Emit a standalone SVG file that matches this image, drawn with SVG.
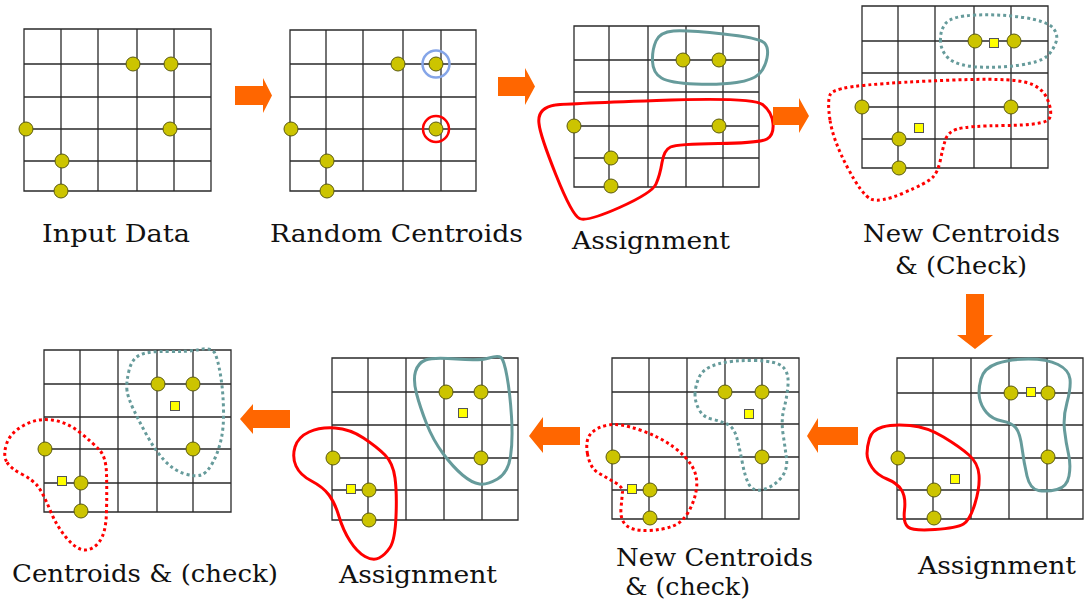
<svg xmlns="http://www.w3.org/2000/svg" width="1085" height="600" viewBox="0 0 1085 600">
<style>
.grid{fill:none;stroke:#2a2a2a;stroke-width:1.3}
.pt{fill:#CCC400;stroke:#5a5a10;stroke-width:1}
.sq{fill:#FFFF00;stroke:#555;stroke-width:1}
.teal{fill:none;stroke:#669B9B;stroke-width:3}
.red{fill:none;stroke:#FF0000;stroke-width:3}
.dot{stroke-dasharray:3 3}
.arr{fill:#FF6600}
.lbl{font-family:"DejaVu Serif","Liberation Serif",serif;font-size:24.5px;fill:#111}
</style>
<rect width="1085" height="600" fill="#fff"/>

<g id="panel1">
<path class="grid" d="M24,29H211V191H24Z M61,29V191 M98,29V191 M137,29V191 M174,29V191 M24,64H211 M24,97H211 M24,129H211 M24,161H211"/>
<circle class="pt" cx="133" cy="64" r="7"/><circle class="pt" cx="171" cy="64" r="7"/><circle class="pt" cx="26" cy="129" r="7"/><circle class="pt" cx="170" cy="129" r="7"/><circle class="pt" cx="62" cy="161" r="7"/><circle class="pt" cx="61" cy="191" r="7"/>
<text class="lbl" x="42" y="242" textLength="148" lengthAdjust="spacingAndGlyphs">Input Data</text>
</g>

<g id="panel2">
<path class="grid" d="M290,30H476V191H290Z M326,30V191 M363,30V191 M403,30V191 M441,30V191 M290,64H476 M290,97H476 M290,129H476 M290,161H476"/>
<circle class="pt" cx="398" cy="64" r="7"/><circle class="pt" cx="436" cy="64" r="7"/><circle class="pt" cx="291" cy="129" r="7"/><circle class="pt" cx="436" cy="129" r="7"/><circle class="pt" cx="327" cy="161" r="7"/><circle class="pt" cx="327" cy="191" r="7"/>
<circle cx="436" cy="64" r="13.5" fill="none" stroke="#85A5E8" stroke-width="2.5"/>
<circle cx="436" cy="129" r="13" fill="none" stroke="#FF0000" stroke-width="2.5"/>
<text class="lbl" x="270" y="242" textLength="253" lengthAdjust="spacingAndGlyphs">Random Centroids</text>
</g>

<g id="panel3">
<path class="grid" d="M574,26H759V187H574Z M609,26V187 M648,26V187 M686,26V187 M723,26V187 M574,60H759 M574,92H759 M574,126H759 M574,158H759"/>
<circle class="pt" cx="683" cy="60" r="7"/><circle class="pt" cx="719" cy="60" r="7"/><circle class="pt" cx="574" cy="126" r="7"/><circle class="pt" cx="719" cy="126" r="7"/><circle class="pt" cx="611" cy="158" r="7"/><circle class="pt" cx="611" cy="186" r="7"/>
<path class="teal" d="M652.5,61.5 Q652,50 656,41 Q660,32 673.5,31 Q687,30 723.5,34 Q760,38 764.5,43 Q769,48 767,58 Q765,68 759,74 Q753,80 736.5,82.5 Q720,85 695,84 Q670,83 661.5,78 Q653,73 652.5,61.5 Z"/>
<path class="red" d="M539,123.5 Q537,108 555,105 Q560,104 656.5,100.5 Q753,97 762.5,104.5 Q772,112 773,123.5 Q774,135 767,139 Q760,143 718.5,143.5 Q677,144 670.5,147 Q664,150 662,162.5 Q660,175 656,184 Q652,193 619.5,207.5 Q587,222 579.5,218.5 Q572,215 556,175 Q540,135 539,123.5 Z"/>
<text class="lbl" x="572" y="249" textLength="158" lengthAdjust="spacingAndGlyphs">Assignment</text>
</g>

<g id="panel4">
<path class="grid" d="M862,6H1048V168H862Z M898,6V168 M935,6V168 M974,6V168 M1011,6V168 M862,41H1048 M862,73H1048 M862,107H1048 M862,139H1048"/>
<path class="teal dot" d="M940.5,41 Q940,30 946,23 Q952,16 976,15 Q1000,14 1023.5,17.5 Q1047,21 1053,28 Q1059,35 1055.5,43.5 Q1052,52 1046,57 Q1040,62 1020,65 Q1000,68 979,67 Q958,66 949.5,59 Q941,52 940.5,41 Z"/>
<path class="red dot" d="M830,120 Q827,100 830.5,94 Q834,88 867,85 Q900,82 953.5,80 Q1007,78 1024.5,82 Q1042,86 1047.5,99.5 Q1053,113 1049,119 Q1045,125 1006,125.5 Q967,126 957.5,129 Q948,132 945.5,139.5 Q943,147 940.5,159.5 Q938,172 932.5,177.5 Q927,183 903.5,193 Q880,203 871,199 Q862,195 847.5,167.5 Q833,140 830,120 Z"/>
<circle class="pt" cx="975" cy="41" r="7"/><circle class="pt" cx="1014" cy="41" r="7"/><circle class="pt" cx="862" cy="107" r="7"/><circle class="pt" cx="1011" cy="107" r="7"/><circle class="pt" cx="899" cy="139" r="7"/><circle class="pt" cx="899" cy="168" r="7"/>
<rect class="sq" x="989.5" y="38.5" width="9" height="9"/><rect class="sq" x="914.5" y="123.5" width="9" height="9"/>
<text class="lbl" x="863" y="242" textLength="197" lengthAdjust="spacingAndGlyphs">New Centroids</text>
<text class="lbl" x="895" y="274" textLength="132" lengthAdjust="spacingAndGlyphs">&amp; (Check)</text>
</g>

<g id="panel5">
<path class="grid" d="M897,358H1083V519H897Z M933,358V519 M971,358V519 M1009,358V519 M1047,358V519 M897,393H1083 M897,425H1083 M897,458H1083 M897,490H1083"/>
<path class="teal" d="M979.5,398 Q978,390 981,379 Q984,368 997,363.5 Q1010,359 1028.5,359 Q1047,359 1058,364.5 Q1069,370 1070,379 Q1071,388 1067,402.5 Q1063,417 1064.5,430 Q1066,443 1068.5,454 Q1071,465 1069,476 Q1067,487 1057,489.5 Q1047,492 1038.5,490.5 Q1030,489 1027,476 Q1024,463 1022,448 Q1020,433 1016,428 Q1012,423 1002,421 Q992,419 986.5,412.5 Q981,406 979.5,398 Z"/>
<path class="red" d="M867,453.5 Q867,447 869.5,438.5 Q872,430 882.5,427 Q893,424 910,425.5 Q927,427 943.5,437 Q960,447 969,455 Q978,463 979,475 Q980,487 975,503.5 Q970,520 963.5,524 Q957,528 935,529.5 Q913,531 908,527 Q903,523 904.5,510 Q906,497 901.5,490 Q897,483 887,479 Q877,475 872,467.5 Q867,460 867,453.5 Z"/>
<circle class="pt" cx="1011" cy="393" r="7"/><circle class="pt" cx="1048" cy="393" r="7"/><circle class="pt" cx="898" cy="458" r="7"/><circle class="pt" cx="1048" cy="457" r="7"/><circle class="pt" cx="934" cy="490" r="7"/><circle class="pt" cx="934" cy="518" r="7"/>
<rect class="sq" x="1026.5" y="387.5" width="9" height="9"/><rect class="sq" x="950.5" y="474.5" width="9" height="9"/>
<text class="lbl" x="918" y="574" textLength="158" lengthAdjust="spacingAndGlyphs">Assignment</text>
</g>

<g id="panel6">
<path class="grid" d="M612,358H799V519H612Z M649,358V519 M687,358V519 M725,358V519 M762,358V519 M612,392H799 M612,424H799 M612,457H799 M612,490H799"/>
<path class="teal dot" d="M695,394.5 Q695,387 699,377.5 Q703,368 718,364 Q733,360 755,360.5 Q777,361 783,367 Q789,373 788,385 Q787,397 784,408.5 Q781,420 783,433.5 Q785,447 786.5,458.5 Q788,470 780.5,478.5 Q773,487 763,489.5 Q753,492 749,484.5 Q745,477 742.5,463.5 Q740,450 737,438.5 Q734,427 727,424 Q720,421 711.5,419 Q703,417 699,409.5 Q695,402 695,394.5 Z"/>
<path class="red dot" d="M587.5,454 Q585,440 591,433.5 Q597,427 608.5,425 Q620,423 640,430 Q660,437 673.5,447 Q687,457 692.5,467 Q698,477 696.5,488.5 Q695,500 689,511 Q683,522 673,526 Q663,530 648,530.5 Q633,531 626.5,525.5 Q620,520 621,508.5 Q622,497 622.5,492 Q623,487 615,482.5 Q607,478 598.5,473 Q590,468 587.5,454 Z"/>
<circle class="pt" cx="725" cy="392" r="7"/><circle class="pt" cx="762" cy="392" r="7"/><circle class="pt" cx="613" cy="457" r="7"/><circle class="pt" cx="762" cy="457" r="7"/><circle class="pt" cx="650" cy="490" r="7"/><circle class="pt" cx="650" cy="518" r="7"/>
<rect class="sq" x="744.5" y="409.5" width="9" height="9"/><rect class="sq" x="627.5" y="484.5" width="9" height="9"/>
<text class="lbl" x="616" y="566" textLength="197" lengthAdjust="spacingAndGlyphs">New Centroids</text>
<text class="lbl" x="625" y="595" textLength="125" lengthAdjust="spacingAndGlyphs">&amp; (check)</text>
</g>

<g id="panel7">
<path class="grid" d="M332,358H518V520H332Z M368,358V520 M406,358V520 M444,358V520 M482,358V520 M332,392H518 M332,425H518 M332,458H518 M332,490H518"/>
<path class="teal" d="M416.5,393.5 Q413,380 415.5,371.5 Q418,363 425.5,360 Q433,357 456.5,359 Q480,361 489,358 Q498,355 501,357.5 Q504,360 507,376.5 Q510,393 511.5,416.5 Q513,440 510.5,456.5 Q508,473 497.5,479 Q487,485 479.5,484 Q472,483 462.5,475 Q453,467 443,453.5 Q433,440 426.5,423.5 Q420,407 416.5,393.5 Z"/>
<path class="red" d="M296,466 Q292,457 295,447 Q298,437 309,432 Q320,427 335,428 Q350,429 363.5,438 Q377,447 385,455 Q393,463 395,478 Q397,493 396,516.5 Q395,540 390,547.5 Q385,555 379,558 Q373,561 365,556.5 Q357,552 350,541 Q343,530 339,516.5 Q335,503 329,495 Q323,487 311.5,481 Q300,475 296,466 Z"/>
<circle class="pt" cx="446" cy="392" r="7"/><circle class="pt" cx="481" cy="392" r="7"/><circle class="pt" cx="333" cy="458" r="7"/><circle class="pt" cx="481" cy="458" r="7"/><circle class="pt" cx="369" cy="490" r="7"/><circle class="pt" cx="369" cy="520" r="7"/>
<rect class="sq" x="458.5" y="408.5" width="9" height="9"/><rect class="sq" x="346.5" y="484.5" width="9" height="9"/>
<text class="lbl" x="339" y="583" textLength="158" lengthAdjust="spacingAndGlyphs">Assignment</text>
</g>

<g id="panel8">
<path class="grid" d="M44,350H231V512H44Z M80,350V512 M118,350V512 M157,350V512 M193,350V512 M44,384H231 M44,417H231 M44,449H231 M44,483H231"/>
<path class="teal dot" d="M127,390.5 Q126,383 129,370.5 Q132,358 141,354.5 Q150,351 168.5,351.5 Q187,352 199.5,349.5 Q212,347 215,353.5 Q218,360 220.5,375 Q223,390 223.5,408.5 Q224,427 221,440 Q218,453 212.5,463 Q207,473 201,475 Q195,477 184,473.5 Q173,470 164,460 Q155,450 147.5,436.5 Q140,423 134,410.5 Q128,398 127,390.5 Z"/>
<path class="red dot" d="M6.5,461.5 Q3,455 6.5,444 Q10,433 23.5,425.5 Q37,418 52,420 Q67,422 80,432.5 Q93,443 99.5,450 Q106,457 106.5,473.5 Q107,490 106.5,511.5 Q106,533 99.5,541.5 Q93,550 85,550 Q77,550 67,538.5 Q57,527 50,510 Q43,493 38,486.5 Q33,480 21.5,474 Q10,468 6.5,461.5 Z"/>
<circle class="pt" cx="158" cy="384" r="7"/><circle class="pt" cx="193" cy="384" r="7"/><circle class="pt" cx="45" cy="449" r="7"/><circle class="pt" cx="193" cy="449" r="7"/><circle class="pt" cx="81" cy="483" r="7"/><circle class="pt" cx="81" cy="511" r="7"/>
<rect class="sq" x="170.5" y="401.5" width="9" height="9"/><rect class="sq" x="57.5" y="476.5" width="9" height="9"/>
<text class="lbl" x="12" y="582" textLength="266" lengthAdjust="spacingAndGlyphs">Centroids &amp; (check)</text>
</g>

<g id="connectors">
<path class="arr" d="M235,86H263V78L272,95.5L263,113V105H235Z"/>
<path class="arr" d="M498,77H525V68L535,86.5L525,105V96H498Z"/>
<path class="arr" d="M773,107H799V98L809,116L799,133V125H773Z"/>
<path class="arr" d="M966,294H984V335H993L975,349L957,335H966Z"/>
<path class="arr" d="M858,427H818V418L807,436L818,453V445H858Z"/>
<path class="arr" d="M580,427H543V417L529,436L543,453V445H580Z"/>
<path class="arr" d="M290,410H253V404L240,419L253,434V428H290Z"/>
</g>
</svg>
